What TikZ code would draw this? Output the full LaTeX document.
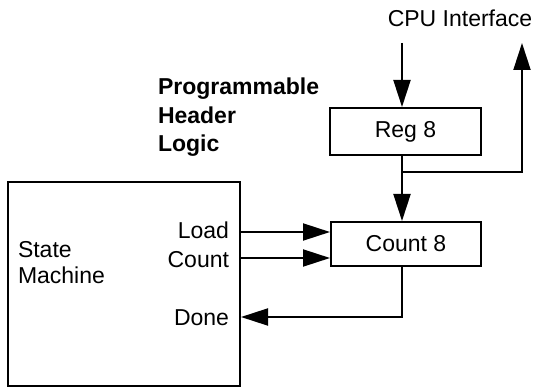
\documentclass[tikz,border=0pt]{standalone}
\usepackage{fontspec}
\setmainfont{Liberation Sans}
\usetikzlibrary{arrows.meta}
\begin{document}
\begin{tikzpicture}[x=1pt,y=-1pt,line width=2pt,
  txt/.style={font=\fontsize{23}{28}\selectfont, inner sep=0pt},
  blk/.style={draw, txt, line width=2pt},
  arr/.style={-{Triangle[length=27pt,width=17pt]}}]
\useasboundingbox (0,0) rectangle (540,387);
% blocks
\node[blk, minimum width=151pt, minimum height=47pt] (reg) at (405.5,131.5) {Reg 8};
\node[blk, minimum width=150pt, minimum height=44pt] (cnt) at (406,244) {Count 8};
\node[draw, line width=2pt, minimum width=232pt, minimum height=204pt, inner sep=0pt] (sm) at (124,284) {};
% labels
\node[txt, anchor=base] (cpu) at (460,27) {CPU Interface};
\node[txt, anchor=base west, align=left, font=\fontsize{23}{28.5}\selectfont\bfseries] (phl) at (157,152) {Programmable\\Header\\Logic};
\node[txt, anchor=base west, align=left, font=\fontsize{23}{26}\selectfont] (sml) at (17,283) {State\\Machine};
\node[txt, anchor=base east] (load) at (230,238) {Load};
\node[txt, anchor=base east] (count) at (230,267) {Count};
\node[txt, anchor=base east] (done) at (230,325) {Done};
% connectors
\coordinate (cpuin) at (402,43);
\coordinate (cpuout) at (522,43);
\coordinate (branch) at (402,172);
\draw[arr] (cpuin) -- (cpuin |- reg.north);
\draw[arr] (reg.south -| cpuin) -- (cnt.north -| cpuin);
\draw[arr] (branch) -- (branch -| cpuout) -- (cpuout);
\draw[arr] (sm.east |- 0,232) -- (cnt.west |- 0,232);
\draw[arr] (sm.east |- 0,258) -- (cnt.west |- 0,258);
\draw[arr] (cnt.south -| cpuin) |- (sm.east |- 0,317);
\end{tikzpicture}
\end{document}
